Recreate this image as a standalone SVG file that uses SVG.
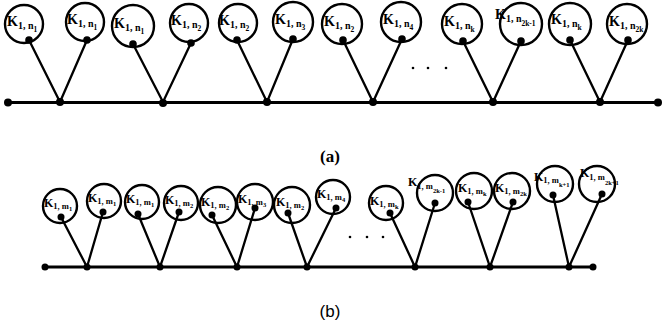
<svg xmlns="http://www.w3.org/2000/svg" width="663" height="327" viewBox="0 0 663 327">
<style>
.c{fill:none;stroke:#000;stroke-width:2.4}
.e{stroke:#000;stroke-width:2.3;fill:none}
.m{stroke:#000;stroke-width:2.8}
.d{fill:#000}
.t{font-family:"Liberation Serif","DejaVu Serif",serif;font-weight:bold;fill:#000}
.a{font-size:14px}
.b{font-size:12px}
.s{font-size:10px}
.ss{font-size:7.5px}
.bs{font-size:8.5px}
.bss{font-size:6.5px}
</style>
<rect width="663" height="327" fill="#fff"/>
<g id="connectors">
<line class="m" x1="8" y1="102.5" x2="658" y2="102.5"/>
<line class="m" x1="45" y1="267" x2="593" y2="267"/>
<path class="e" d="M29 40L60 102L87 40M133 44L163 102L191 43M237 40L267 102L293 39M343 40L373 102L402 39M463 41L493 102L521 41M570 40L600 102L628 40"/>
<path class="e" d="M61 217L87 267L103 212M138 214L160 267L179 212M212 215L237 267L255 208M288 213L307 267L336 208M390 213L415 267L435 203M468 202L490 267L513 202M553 195L569 267L602 194"/>
</g>
<g id="junctions">
<circle class="d" cx="8" cy="102.5" r="4"/><circle class="d" cx="658" cy="102.5" r="4"/>
<circle class="d" cx="60" cy="102" r="4"/><circle class="d" cx="163" cy="103" r="4"/><circle class="d" cx="267" cy="102" r="4"/><circle class="d" cx="373" cy="102" r="4"/><circle class="d" cx="493" cy="102" r="4"/><circle class="d" cx="600" cy="102" r="4"/>
<circle class="d" cx="45" cy="267" r="3.5"/><circle class="d" cx="593" cy="267" r="3.5"/>
<circle class="d" cx="87" cy="267" r="3.5"/><circle class="d" cx="160" cy="267" r="3.5"/><circle class="d" cx="237" cy="267" r="3.5"/><circle class="d" cx="307" cy="267" r="3.5"/><circle class="d" cx="415" cy="267" r="3.5"/><circle class="d" cx="490" cy="267" r="3.5"/><circle class="d" cx="569" cy="267" r="3.5"/>
</g>
<g id="ellipsis-a"><circle class="d" cx="413" cy="68" r="1.3"/><circle class="d" cx="428" cy="68" r="1.3"/><circle class="d" cx="446" cy="68" r="1.3"/></g>
<g id="ellipsis-b"><circle class="d" cx="350" cy="237" r="1.3"/><circle class="d" cx="367" cy="237" r="1.3"/><circle class="d" cx="383" cy="237" r="1.3"/></g>

<g id="a1"><circle class="c" cx="24" cy="24" r="19"/><circle class="d" cx="29" cy="40" r="3.8"/><text class="t a" x="7" y="26">K<tspan class="s" dy="3">1, n</tspan><tspan class="ss" dy="3">1</tspan></text></g>
<g id="a2"><circle class="c" cx="85" cy="22" r="19"/><circle class="d" cx="87" cy="40" r="3.8"/><text class="t a" x="67" y="24">K<tspan class="s" dy="3">1, n</tspan><tspan class="ss" dy="3">1</tspan></text></g>
<g id="a3"><circle class="c" cx="133" cy="26" r="21"/><circle class="d" cx="133" cy="44" r="3.8"/><text class="t a" x="114" y="28">K<tspan class="s" dy="3">1, n</tspan><tspan class="ss" dy="3">1</tspan></text></g>
<g id="a4"><circle class="c" cx="189" cy="23" r="19"/><circle class="d" cx="191" cy="43" r="3.8"/><text class="t a" x="171" y="25">K<tspan class="s" dy="3">1, n</tspan><tspan class="ss" dy="3">2</tspan></text></g>
<g id="a5"><circle class="c" cx="238" cy="23" r="19"/><circle class="d" cx="237" cy="40" r="3.8"/><text class="t a" x="219" y="25">K<tspan class="s" dy="3">1, n</tspan><tspan class="ss" dy="3">2</tspan></text></g>
<g id="a6"><circle class="c" cx="293" cy="22" r="20"/><circle class="d" cx="293" cy="39" r="3.8"/><text class="t a" x="275" y="24">K<tspan class="s" dy="3">1, n</tspan><tspan class="ss" dy="3">3</tspan></text></g>
<g id="a7"><circle class="c" cx="342" cy="24" r="20"/><circle class="d" cx="343" cy="40" r="3.8"/><text class="t a" x="324" y="26">K<tspan class="s" dy="3">1, n</tspan><tspan class="ss" dy="3">2</tspan></text></g>
<g id="a8"><circle class="c" cx="401" cy="22" r="20"/><circle class="d" cx="402" cy="39" r="3.8"/><text class="t a" x="383" y="24">K<tspan class="s" dy="3">1, n</tspan><tspan class="ss" dy="3">4</tspan></text></g>
<g id="a9"><circle class="c" cx="462" cy="24" r="20"/><circle class="d" cx="463" cy="41" r="3.8"/><text class="t a" x="444" y="26">K<tspan class="s" dy="3">1, n</tspan><tspan class="ss" dy="3">k</tspan></text></g>
<g id="a10"><circle class="c" cx="521" cy="24" r="21"/><circle class="d" cx="521" cy="41" r="3.8"/><text class="t a" x="495" y="19">K<tspan class="s" dy="3">1, n</tspan><tspan class="ss" dy="4">2k-1</tspan></text></g>
<g id="a11"><circle class="c" cx="570" cy="24" r="21"/><circle class="d" cx="570" cy="40" r="3.8"/><text class="t a" x="551" y="24">K<tspan class="s" dy="3">1, n</tspan><tspan class="ss" dy="3">k</tspan></text></g>
<g id="a12"><circle class="c" cx="627" cy="24" r="20"/><circle class="d" cx="628" cy="40" r="3.8"/><text class="t a" x="609" y="26">K<tspan class="s" dy="3">1, n</tspan><tspan class="ss" dy="3">2k</tspan></text></g>

<g id="b1"><circle class="c" cx="60" cy="206" r="17"/><circle class="d" cx="61" cy="217" r="3.5"/><text class="t b" x="44" y="207">K<tspan class="bs" dy="2">1, m</tspan><tspan class="bss" dy="2">1</tspan></text></g>
<g id="b2"><circle class="c" cx="104" cy="201" r="17"/><circle class="d" cx="103" cy="212" r="3.5"/><text class="t b" x="88" y="202">K<tspan class="bs" dy="2">1, m</tspan><tspan class="bss" dy="2">1</tspan></text></g>
<g id="b3"><circle class="c" cx="142" cy="202" r="17"/><circle class="d" cx="138" cy="214" r="3.5"/><text class="t b" x="126" y="203">K<tspan class="bs" dy="2">1, m</tspan><tspan class="bss" dy="2">1</tspan></text></g>
<g id="b4"><circle class="c" cx="181" cy="203" r="17"/><circle class="d" cx="179" cy="212" r="3.5"/><text class="t b" x="165" y="204">K<tspan class="bs" dy="2">1, m</tspan><tspan class="bss" dy="2">2</tspan></text></g>
<g id="b5"><circle class="c" cx="218" cy="205" r="18"/><circle class="d" cx="212" cy="215" r="3.5"/><text class="t b" x="201" y="206">K<tspan class="bs" dy="2">1, m</tspan><tspan class="bss" dy="2">2</tspan></text></g>
<g id="b6"><circle class="c" cx="255" cy="202" r="18"/><circle class="d" cx="255" cy="208" r="3.5"/><text class="t b" x="238" y="203">K<tspan class="bs" dy="2">1, m</tspan><tspan class="bss" dy="2">3</tspan></text></g>
<g id="b7"><circle class="c" cx="292" cy="205" r="18"/><circle class="d" cx="288" cy="213" r="3.5"/><text class="t b" x="276" y="206">K<tspan class="bs" dy="2">1, m</tspan><tspan class="bss" dy="2">2</tspan></text></g>
<g id="b8"><circle class="c" cx="333" cy="197" r="17"/><circle class="d" cx="336" cy="208" r="3.5"/><text class="t b" x="317" y="198">K<tspan class="bs" dy="2">1, m</tspan><tspan class="bss" dy="2">4</tspan></text></g>
<g id="b9"><circle class="c" cx="386" cy="203" r="17"/><circle class="d" cx="390" cy="213" r="3.5"/><text class="t b" x="370" y="205">K<tspan class="bs" dy="2">1, m</tspan><tspan class="bss" dy="2">k</tspan></text></g>
<g id="b10"><circle class="c" cx="435" cy="193" r="18"/><circle class="d" cx="435" cy="203" r="3.5"/><text class="t b" x="408" y="186">K<tspan class="bs" dy="3">1, m</tspan><tspan class="bss" dy="4">2k-1</tspan></text></g>
<g id="b11"><circle class="c" cx="474" cy="191" r="18"/><circle class="d" cx="468" cy="202" r="3.5"/><text class="t b" x="458" y="192">K<tspan class="bs" dy="2">1, m</tspan><tspan class="bss" dy="2">k</tspan></text></g>
<g id="b12"><circle class="c" cx="512" cy="191" r="18"/><circle class="d" cx="513" cy="202" r="3.5"/><text class="t b" x="495" y="192">K<tspan class="bs" dy="2">1, m</tspan><tspan class="bss" dy="2">2k</tspan></text></g>
<g id="b13"><circle class="c" cx="555" cy="184" r="18"/><circle class="d" cx="553" cy="195" r="3.5"/><text class="t b" x="534" y="181">K<tspan class="bs" dy="2">1, m</tspan><tspan class="bss" dy="4">k+1</tspan></text></g>
<g id="b14"><circle class="c" cx="597" cy="184" r="18"/><circle class="d" cx="602" cy="194" r="3.5"/><text class="t b" x="580" y="177">K<tspan class="bs" dy="3">1, m</tspan><tspan class="bss" dy="5">2k+1</tspan></text></g>

<text x="330" y="162" text-anchor="middle" style="font-family:'Liberation Serif',serif;font-weight:bold;font-size:17px">(a)</text>
<text x="330" y="317" text-anchor="middle" style="font-family:'Liberation Sans',sans-serif;font-size:17px">(b)</text>
</svg>
